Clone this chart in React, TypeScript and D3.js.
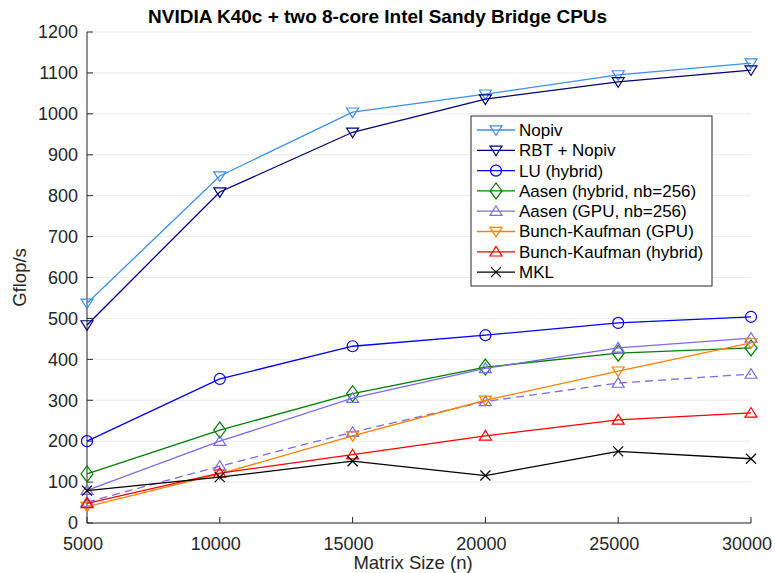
import React from 'react';
import * as d3 from 'd3';

const sizes = [5000, 10000, 15000, 20000, 25000, 30000];
const nopiv = [537, 848, 1004, 1048, 1095, 1124];
const rbtNopiv = [484, 809, 955, 1036, 1078, 1107];
const luHybrid = [200, 352, 432, 459, 489, 504];
const aasenHybrid = [120, 227, 316, 381, 415, 428];
const aasenGpu = [80, 200, 305, 378, 428, 452];
const aasenGpuDashed = [51, 139, 222, 297, 342, 364];
const bkGpu = [40, 120, 213, 300, 371, 440];
const bkHybrid = [48, 122, 167, 213, 252, 269];
const mkl = [79, 112, 151, 116, 175, 157];
const yTicks = [0, 100, 200, 300, 400, 500, 600, 700, 800, 900, 1000, 1100, 1200];
const xTicks = [5000, 10000, 15000, 20000, 25000, 30000];

type Marker = 'triDown' | 'triUp' | 'circle' | 'diamond' | 'cross';

const series: { name: string; values: number[]; color: string; marker: Marker; dashed?: boolean; legend: boolean }[] = [
  { name: 'Nopiv', values: nopiv, color: '#3b8ff0', marker: 'triDown', legend: true },
  { name: 'RBT + Nopiv', values: rbtNopiv, color: '#00007a', marker: 'triDown', legend: true },
  { name: 'LU (hybrid)', values: luHybrid, color: '#0000ff', marker: 'circle', legend: true },
  { name: 'Aasen (hybrid, nb=256)', values: aasenHybrid, color: '#008000', marker: 'diamond', legend: true },
  { name: 'Aasen (GPU, nb=256)', values: aasenGpu, color: '#7b6af0', marker: 'triUp', legend: true },
  { name: 'Aasen (GPU, dashed)', values: aasenGpuDashed, color: '#7b6af0', marker: 'triUp', dashed: true, legend: false },
  { name: 'Bunch-Kaufman (GPU)', values: bkGpu, color: '#ff8000', marker: 'triDown', legend: true },
  { name: 'Bunch-Kaufman (hybrid)', values: bkHybrid, color: '#ff0000', marker: 'triUp', legend: true },
  { name: 'MKL', values: mkl, color: '#000000', marker: 'cross', legend: true },
];

function markerPath(m: Marker, cx: number, cy: number): string {
  const s = 6;
  switch (m) {
    case 'triDown':
      return `M${cx - s},${cy - s * 0.7}L${cx + s},${cy - s * 0.7}L${cx},${cy + s * 0.9}Z`;
    case 'triUp':
      return `M${cx - s},${cy + s * 0.7}L${cx + s},${cy + s * 0.7}L${cx},${cy - s * 0.9}Z`;
    case 'diamond':
      return `M${cx},${cy - 8}L${cx + 6},${cy}L${cx},${cy + 8}L${cx - 6},${cy}Z`;
    case 'cross':
      return `M${cx - 5},${cy - 5}L${cx + 5},${cy + 5}M${cx - 5},${cy + 5}L${cx + 5},${cy - 5}`;
    default:
      return '';
  }
}

function MarkerShape({ m, cx, cy, color }: { m: Marker; cx: number; cy: number; color: string }) {
  if (m === 'circle') return <circle cx={cx} cy={cy} r={5.5} fill="none" stroke={color} strokeWidth={1.2} />;
  return <path d={markerPath(m, cx, cy)} fill="none" stroke={color} strokeWidth={1.2} />;
}

export default function App() {
  const width = 775;
  const height = 573;
  const margin = { left: 87, right: 24, top: 32, bottom: 50 };
  const x = d3.scaleLinear().domain([5000, 30000]).range([margin.left, width - margin.right]);
  const y = d3.scaleLinear().domain([0, 1200]).range([height - margin.bottom, margin.top]);
  const line = d3
    .line<number>()
    .x((_, i) => x(sizes[i]))
    .y((d) => y(d));
  const font = 'Liberation Sans, Arial, Helvetica, sans-serif';
  const axisColor = '#262626';
  const legendItems = series.filter((s) => s.legend);
  const lg = { x: 471, y: 116, w: 241, h: 170, row: 20.3 };

  return (
    <svg width={width} height={height} style={{ position: 'absolute', left: 0, top: 0 }} fontFamily={font}>
      <rect width={width} height={height} fill="#fff" />
      {yTicks.map((t) => (
        <line key={'g' + t} x1={x(5000)} x2={x(30000)} y1={y(t)} y2={y(t)} stroke="#ebebeb" strokeWidth={1} />
      ))}
      {/* axes */}
      <line x1={x(5000)} x2={x(5000)} y1={y(0)} y2={y(1200)} stroke={axisColor} />
      <line x1={x(5000)} x2={x(30000)} y1={y(0)} y2={y(0)} stroke={axisColor} />
      {yTicks.map((t) => (
        <g key={'y' + t}>
          <line x1={x(5000)} x2={x(5000) + 6} y1={y(t)} y2={y(t)} stroke={axisColor} />
          <text x={x(5000) - 9} y={y(t)} dy="0.35em" textAnchor="end" fontSize={18} fill={axisColor}>
            {t}
          </text>
        </g>
      ))}
      {xTicks.map((t) => (
        <g key={'x' + t}>
          <line x1={x(t)} x2={x(t)} y1={y(0)} y2={y(0) - 6} stroke={axisColor} />
          <text x={x(t) - 4} y={550} textAnchor="middle" fontSize={18} fill={axisColor}>
            {t}
          </text>
        </g>
      ))}
      <text x={413} y={569} textAnchor="middle" fontSize={18.5} fill={axisColor}>
        Matrix Size (n)
      </text>
      <text
        transform={`translate(26,${(y(0) + y(1200)) / 2}) rotate(-90)`}
        textAnchor="middle"
        fontSize={18.5}
        fill={axisColor}
      >
        Gflop/s
      </text>
      <text x={148} y={23} textAnchor="start" fontSize={19} fontWeight="bold" fill="#000">
        NVIDIA K40c + two 8-core Intel Sandy Bridge CPUs
      </text>

      {series.map((s) => (
        <g key={s.name}>
          <path
            d={line(s.values) || ''}
            fill="none"
            stroke={s.color}
            strokeWidth={1.3}
            strokeDasharray={s.dashed ? '8,5' : undefined}
          />
          {s.values.map((v, i) => (
            <MarkerShape key={i} m={s.marker} cx={x(sizes[i])} cy={y(v)} color={s.color} />
          ))}
        </g>
      ))}

      {/* legend */}
      <rect x={lg.x} y={lg.y} width={lg.w} height={lg.h} fill="#fff" stroke={axisColor} strokeWidth={1} />
      {legendItems.map((s, i) => {
        const cy = lg.y + 14 + i * lg.row;
        return (
          <g key={'l' + s.name}>
            <line x1={lg.x + 6} x2={lg.x + 44} y1={cy} y2={cy} stroke={s.color} strokeWidth={1.3} />
            <MarkerShape m={s.marker} cx={lg.x + 25} cy={cy} color={s.color} />
            <text x={lg.x + 48} y={cy} dy="0.35em" fontSize={17} fill="#000">
              {s.name}
            </text>
          </g>
        );
      })}
    </svg>
  );
}
